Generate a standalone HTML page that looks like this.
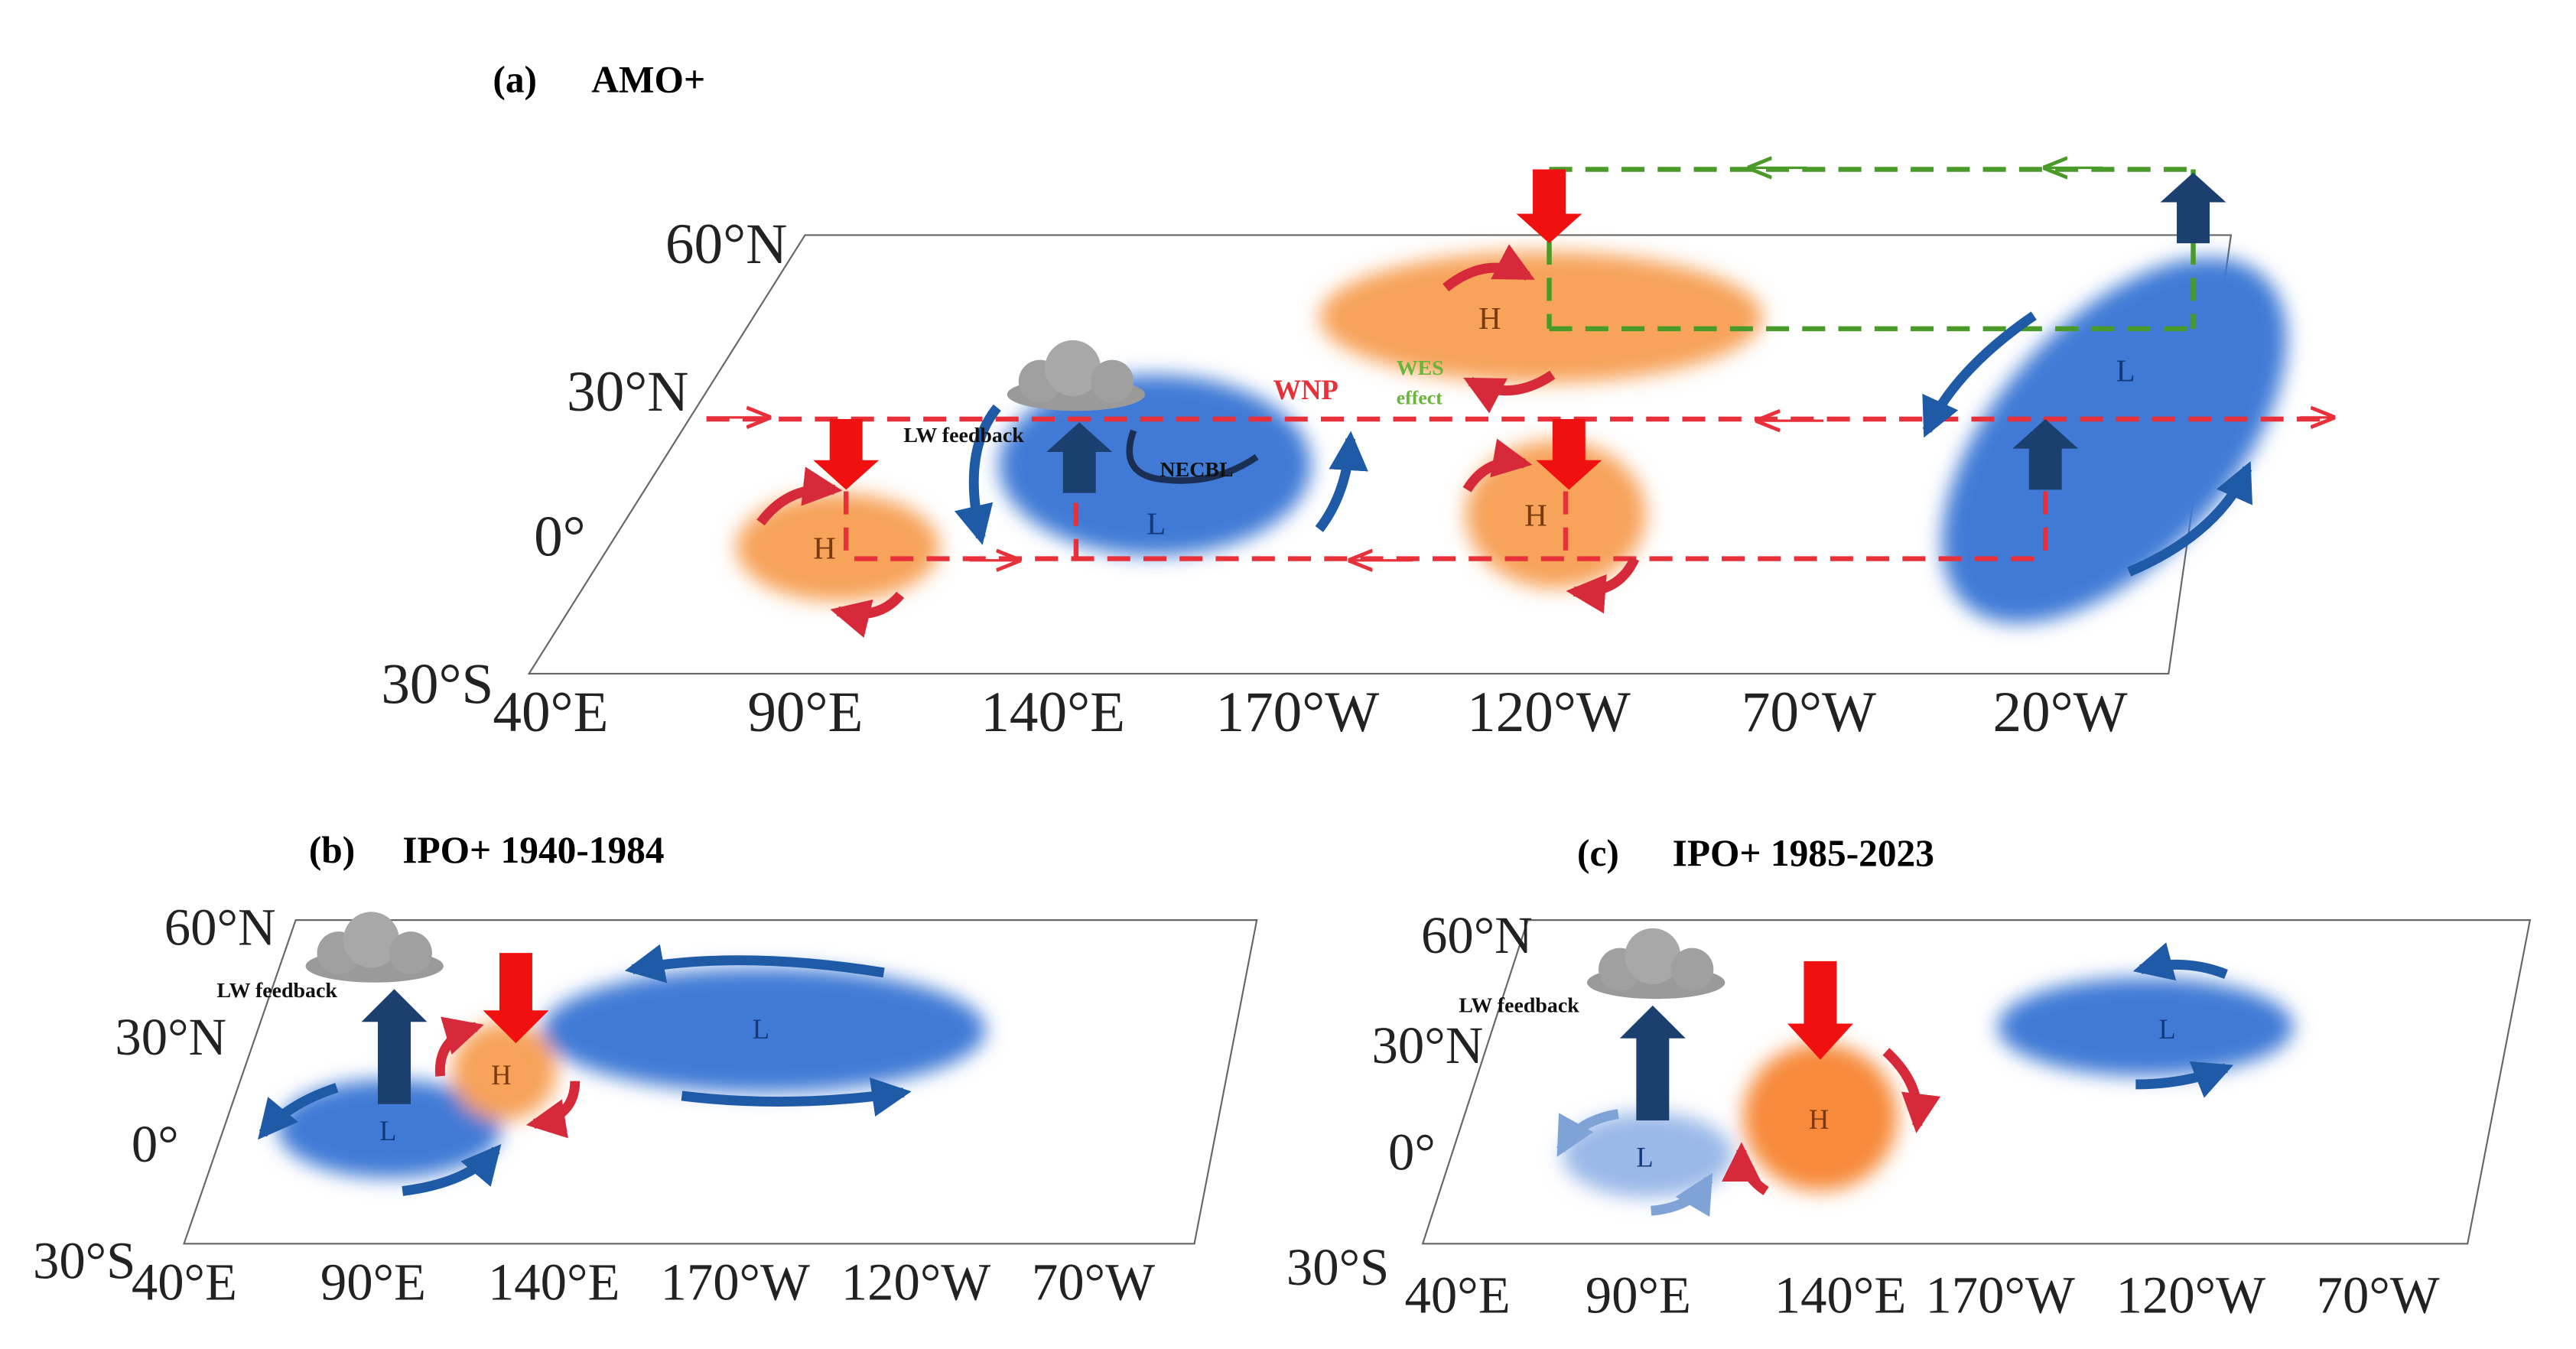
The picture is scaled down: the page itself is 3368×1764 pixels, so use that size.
<!DOCTYPE html>
<html><head><meta charset="utf-8"><style>
html,body{margin:0;padding:0;background:#fff}
svg{display:block}
text{font-family:"Liberation Serif",serif}
</style></head><body>
<svg width="3368" height="1764" viewBox="0 0 1568 821" xmlns="http://www.w3.org/2000/svg">
<defs>
<filter id="blur" x="-30%" y="-30%" width="160%" height="160%"><feGaussianBlur stdDeviation="6"/></filter>
<marker id="mr" viewBox="0 0 10 10" refX="8" refY="5" markerWidth="4" markerHeight="4" orient="auto"><path d="M0,0 L10,5 L0,10 z" fill="#d62a3a"/></marker>
<marker id="mb" viewBox="0 0 10 10" refX="8" refY="5" markerWidth="4" markerHeight="4" orient="auto"><path d="M0,0 L10,5 L0,10 z" fill="#1f5aa6"/></marker>
<marker id="ml" viewBox="0 0 10 10" refX="8" refY="5" markerWidth="4" markerHeight="4" orient="auto"><path d="M0,0 L10,5 L0,10 z" fill="#7fa3d6"/></marker>
<marker id="mrl" viewBox="0 0 10 10" refX="9" refY="5" markerWidth="10" markerHeight="10" orient="auto"><path d="M0,1 L10,5 L0,9" fill="none" stroke="#e8303a" stroke-width="1.5"/></marker>
<marker id="mgl" viewBox="0 0 10 10" refX="9" refY="5" markerWidth="10" markerHeight="10" orient="auto"><path d="M0,1 L10,5 L0,9" fill="none" stroke="#4a9a2a" stroke-width="1.5"/></marker>
<g id="cloud"><ellipse cx="0" cy="8" rx="42" ry="10" fill="#9a9a9a"/><circle cx="-22" cy="0" r="13" fill="#a0a0a0"/><circle cx="-2" cy="-8" r="17" fill="#a8a8a8"/><circle cx="22" cy="0" r="13" fill="#a0a0a0"/></g>
</defs>

<!-- Panel a -->
<g>
<text x="300" y="56" font-size="23" font-weight="bold">(a)</text>
<text x="360" y="56" font-size="23" font-weight="bold">AMO+</text>
<polygon points="490,143 1358,143 1320,410 322,410" fill="none" stroke="#666" stroke-width="1"/>
<g font-size="35" fill="#222">
<text x="405" y="160">60°N</text><text x="345" y="250">30°N</text><text x="325" y="338">0°</text><text x="232" y="428">30°S</text>
<text x="300" y="445">40°E</text><text x="455" y="445">90°E</text><text x="597" y="445">140°E</text><text x="740" y="445">170°W</text><text x="893" y="445">120°W</text><text x="1060" y="445">70°W</text><text x="1213" y="445">20°W</text>
</g>
<g filter="url(#blur)">
<ellipse cx="938" cy="193" rx="135" ry="40" fill="#f7a35a"/>
<ellipse cx="1287" cy="268" rx="135" ry="72" transform="rotate(-48 1287 268)" fill="#3f7ad6"/>
<ellipse cx="703" cy="283" rx="95" ry="55" fill="#3f7ad6"/>
<ellipse cx="510" cy="333" rx="62" ry="33" fill="#f7a35a"/>
<ellipse cx="947" cy="313" rx="55" ry="45" fill="#f7a35a"/>
</g>
<g font-size="19" fill="#7a3a10"><text x="900" y="200">H</text><text x="495" y="340">H</text><text x="928" y="320">H</text></g>
<g font-size="19" fill="#123a7a"><text x="1288" y="232">L</text><text x="698" y="325">L</text></g>
<g stroke="#e8303a" stroke-width="3" stroke-dasharray="14,8" fill="none">
<line x1="430" y1="255" x2="1420" y2="255"/><line x1="520" y1="340" x2="1245" y2="340"/>
<line x1="515" y1="255" x2="515" y2="340"/><line x1="655" y1="262" x2="655" y2="340"/><line x1="953" y1="255" x2="953" y2="340"/><line x1="1245" y1="255" x2="1245" y2="340"/>
</g>
<g stroke="#e8303a" stroke-width="1.5" fill="none"><line x1="430" y1="254" x2="468" y2="254" marker-end="url(#mrl)"/><line x1="1400" y1="254" x2="1420" y2="254" marker-end="url(#mrl)"/><line x1="1110" y1="256" x2="1070" y2="256" marker-end="url(#mrl)"/><line x1="590" y1="341" x2="620" y2="341" marker-end="url(#mrl)"/><line x1="860" y1="341" x2="822" y2="341" marker-end="url(#mrl)"/></g>
<g stroke="#4a9a2a" stroke-width="3" stroke-dasharray="14,8" fill="none">
<line x1="943" y1="103" x2="1335" y2="103"/><line x1="943" y1="200" x2="1335" y2="200"/><line x1="943" y1="103" x2="943" y2="200"/><line x1="1335" y1="103" x2="1335" y2="200"/>
</g>
<g stroke="#4a9a2a" stroke-width="1.5"><line x1="1100" y1="102" x2="1065" y2="102" marker-end="url(#mgl)"/><line x1="1280" y1="102" x2="1245" y2="102" marker-end="url(#mgl)"/></g>
<g fill="#f01010"><path d="M933,103h20v27h10l-20,18l-20,-18h10z"/><path d="M505,255h20v25h10l-20,18l-20,-18h10z"/><path d="M945,255h20v25h10l-20,18l-20,-18h10z"/></g>
<g fill="#1b3f6e"><path d="M1325,148h20v-25h10l-20,-18l-20,18h10z"/><path d="M1235,298h20v-25h10l-20,-18l-20,18h10z"/><path d="M647,300h20v-25h10l-20,-18l-20,18h10z"/></g>
<use href="#cloud" x="655" y="232"/>
<g fill="none" stroke-width="6">
<path d="M880,175 Q905,155 930,168" stroke="#d62a3a" marker-end="url(#mr)"/><path d="M945,228 Q920,245 895,232" stroke="#d62a3a" marker-end="url(#mr)"/>
<path d="M463,318 Q480,295 508,298" stroke="#d62a3a" marker-end="url(#mr)"/><path d="M548,362 Q535,378 510,372" stroke="#d62a3a" marker-end="url(#mr)"/>
<path d="M893,298 Q905,278 928,282" stroke="#d62a3a" marker-end="url(#mr)"/><path d="M995,340 Q985,362 958,360" stroke="#d62a3a" marker-end="url(#mr)"/>
<path d="M607,248 Q585,275 597,327" stroke="#1f5aa6" marker-end="url(#mb)"/><path d="M803,322 Q820,300 822,267" stroke="#1f5aa6" marker-end="url(#mb)"/>
<path d="M1238,192 Q1190,225 1173,262" stroke="#1f5aa6" marker-end="url(#mb)"/><path d="M1296,348 Q1350,325 1368,285" stroke="#1f5aa6" marker-end="url(#mb)"/>
<path d="M690,262 Q680,290 710,292 Q740,295 765,278" stroke="#1b2f55" stroke-width="4"/>
</g>
<text x="775" y="243" font-size="17" font-weight="bold" fill="#e8303a">WNP</text>
<text x="850" y="228" font-size="13" font-weight="bold" fill="#6ab43a">WES</text><text x="850" y="246" font-size="12" font-weight="bold" fill="#6ab43a">effect</text>
<text x="550" y="269" font-size="13" font-weight="bold" fill="#111">LW feedback</text>
<text x="706" y="290" font-size="13" font-weight="bold" fill="#111">NECBL</text>
</g>

<!-- Panel b -->
<g>
<text x="188" y="525" font-size="23" font-weight="bold">(b)</text>
<text x="245" y="525" font-size="23" font-weight="bold">IPO+ 1940-1984</text>
<polygon points="180,560 765,560 727,757 112,757" fill="none" stroke="#666" stroke-width="1"/>
<g font-size="32" fill="#222">
<text x="100" y="575">60°N</text><text x="70" y="642">30°N</text><text x="80" y="707">0°</text><text x="20" y="778">30°S</text>
<text x="80" y="791">40°E</text><text x="195" y="791">90°E</text><text x="297" y="791">140°E</text><text x="402" y="791">170°W</text><text x="512" y="791">120°W</text><text x="628" y="791">70°W</text>
</g>
<g filter="url(#blur)">
<ellipse cx="237" cy="687" rx="68" ry="30" fill="#3f7ad6"/>
<ellipse cx="465" cy="627" rx="135" ry="38" fill="#3f7ad6"/>
<ellipse cx="307" cy="652" rx="32" ry="30" fill="#f7a35a"/>
</g>
<g font-size="17"><text x="231" y="694" fill="#123a7a">L</text><text x="458" y="632" fill="#123a7a">L</text><text x="299" y="660" fill="#7a3a10">H</text></g>
<path d="M230,672h20v-50h10l-20,-20l-20,20h10z" fill="#1b3f6e"/>
<path d="M304,580h20v35h10l-20,20l-20,-20h10z" fill="#f01010"/>
<use href="#cloud" x="228" y="580"/>
<text x="132" y="607" font-size="13" font-weight="bold" fill="#111">LW feedback</text>
<g fill="none" stroke-width="6">
<path d="M538,592 Q450,578 385,590" stroke="#1f5aa6" marker-end="url(#mb)"/><path d="M415,667 Q480,675 550,665" stroke="#1f5aa6" marker-end="url(#mb)"/>
<path d="M205,662 Q175,672 160,690" stroke="#1f5aa6" marker-end="url(#mb)"/><path d="M245,725 Q285,720 302,700" stroke="#1f5aa6" marker-end="url(#mb)"/>
<path d="M268,655 Q266,632 290,625" stroke="#d62a3a" marker-end="url(#mr)"/><path d="M350,658 Q350,680 325,684" stroke="#d62a3a" marker-end="url(#mr)"/>
</g>
</g>

<!-- Panel c -->
<g>
<text x="960" y="527" font-size="23" font-weight="bold">(c)</text>
<text x="1018" y="527" font-size="23" font-weight="bold">IPO+ 1985-2023</text>
<polygon points="930,560 1540,560 1502,757 866,757" fill="none" stroke="#666" stroke-width="1"/>
<g font-size="32" fill="#222">
<text x="865" y="580">60°N</text><text x="835" y="647">30°N</text><text x="845" y="712">0°</text><text x="783" y="782">30°S</text>
<text x="855" y="799">40°E</text><text x="965" y="799">90°E</text><text x="1080" y="799">140°E</text><text x="1172" y="799">170°W</text><text x="1288" y="799">120°W</text><text x="1410" y="799">70°W</text>
</g>
<g filter="url(#blur)">
<ellipse cx="1003" cy="703" rx="52" ry="26" fill="#9ab8e8"/>
<ellipse cx="1306" cy="625" rx="90" ry="30" fill="#3f7ad6"/>
<ellipse cx="1108" cy="680" rx="47" ry="45" fill="#f78a3a"/>
</g>
<g font-size="17"><text x="996" y="710" fill="#123a7a">L</text><text x="1314" y="632" fill="#123a7a">L</text><text x="1101" y="687" fill="#7a3a10">H</text></g>
<path d="M996,682h20v-50h10l-20,-20l-20,20h10z" fill="#1b3f6e"/>
<path d="M1098,585h20v38h10l-20,22l-20,-22h10z" fill="#f01010"/>
<use href="#cloud" x="1008" y="590"/>
<text x="888" y="616" font-size="13" font-weight="bold" fill="#111">LW feedback</text>
<g fill="none" stroke-width="6">
<path d="M1355,593 Q1330,583 1303,590" stroke="#1f5aa6" marker-end="url(#mb)"/><path d="M1300,660 Q1330,660 1355,650" stroke="#1f5aa6" marker-end="url(#mb)"/>
<path d="M985,678 Q960,682 950,700" stroke="#7fa3d6" marker-end="url(#ml)"/><path d="M1005,737 Q1030,735 1040,718" stroke="#7fa3d6" marker-end="url(#ml)"/>
<path d="M1148,640 Q1170,660 1167,685" stroke="#d62a3a" marker-end="url(#mr)"/><path d="M1075,725 Q1060,715 1060,700" stroke="#d62a3a" marker-end="url(#mr)"/>
</g>
</g>
</svg>
</body></html>
